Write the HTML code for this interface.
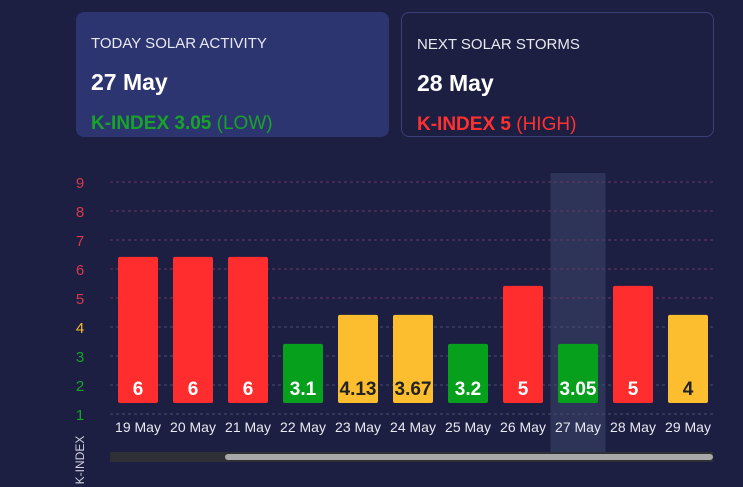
<!DOCTYPE html>
<html><head><meta charset="utf-8"><style>
body{margin:0;width:743px;height:487px;background:#1c1f42;font-family:"Liberation Sans",sans-serif;overflow:hidden;position:relative;color:#fff}
.card{position:absolute;top:12px;width:313px;height:125px;border-radius:8px;box-sizing:border-box;padding-left:15px}
.t{position:absolute;top:23px;left:15px;font-size:15px;color:#e8e8f0}
.d{position:absolute;top:57px;left:15px;font-size:23px;font-weight:bold}
.k{position:absolute;top:101px;left:15px;font-size:19px}
</style></head><body>
<div class="card" style="left:76px;background:#2d3570">
<div class="t">TODAY SOLAR ACTIVITY</div>
<div class="d">27 May</div>
<div class="k" style="color:#17a32a"><b>K-INDEX 3.05</b> (LOW)</div>
</div>
<div class="card" style="left:401px;border:1px solid #3a4078">
<div class="t">NEXT SOLAR STORMS</div>
<div class="d">28 May</div>
<div class="k" style="color:#ff3030"><b>K-INDEX 5</b> (HIGH)</div>
</div>
<svg id="chart" width="743" height="487" style="position:absolute;left:0;top:0"></svg>
<script>
const categories=["19 May","20 May","21 May","22 May","23 May","24 May","25 May","26 May","27 May","28 May","29 May"];
const values=[6,6,6,3.1,4.13,3.67,3.2,5,3.05,5,4];
const labels=["6","6","6","3.1","4.13","3.67","3.2","5","3.05","5","4"];
const yTicks=[1,2,3,4,5,6,7,8,9];
const highlightIndex=8;
const NS="http://www.w3.org/2000/svg";
const svg=document.getElementById('chart');
function y(v){return 414-29*(v-1);}
function x(i){return 138+55*i;}
function mk(t,a,p){const e=document.createElementNS(NS,t);for(const k in a)e.setAttribute(k,a[k]);(p||svg).appendChild(e);return e;}
function tc(v){return v>=5?'#d8394a':v>=4?'#f2bd2c':'#17a32a';}
// highlight
let hl=mk('rect',{x:x(highlightIndex)-27.5,y:173,width:55,height:280,fill:'#2e3358'});


yTicks.forEach(v=>{
  let g=mk('line',{x1:110,x2:713,y1:y(v),y2:y(v),stroke:v>=5?'#6b3a5e':'#4a4e70','stroke-dasharray':'3,3','stroke-width':1});
  
  
  let t=mk('text',{x:80,y:y(v)+6,fill:tc(v),'font-size':15,'text-anchor':'middle'});
  t.textContent=v;
  
  
});
values.forEach((v,i)=>{
  const lv=Math.round(v);
  const col=lv>=5?'#ff2d2d':lv>=4?'#fcbd2e':'#06a01c';
  const top=y(lv+0.42), bot=403;
  let r=mk('rect',{x:x(i)-20,y:top,width:40,height:bot-top,rx:2,fill:col});
  
  
  let t=mk('text',{x:x(i),y:395,fill:lv==4?'#222':'#fff','font-size':19,'font-weight':'bold','text-anchor':'middle'});
  t.textContent=labels[i];
  
  
  let c=mk('text',{x:x(i),y:432,fill:'#e8e8f0','font-size':14,'text-anchor':'middle'});
  c.textContent=categories[i];
  
  
});
let tr=mk('rect',{x:110,y:452,width:603,height:10,fill:'#2f3036'});


let th=mk('rect',{x:225,y:454,width:488,height:6,rx:3,fill:'#a8a8a8'});


let yt=mk('text',{x:0,y:0,fill:'#d0d0e0','font-size':12,'text-anchor':'middle',transform:'translate(84,460) rotate(-90)'});
yt.textContent='K-INDEX';


</script>
</body></html>
